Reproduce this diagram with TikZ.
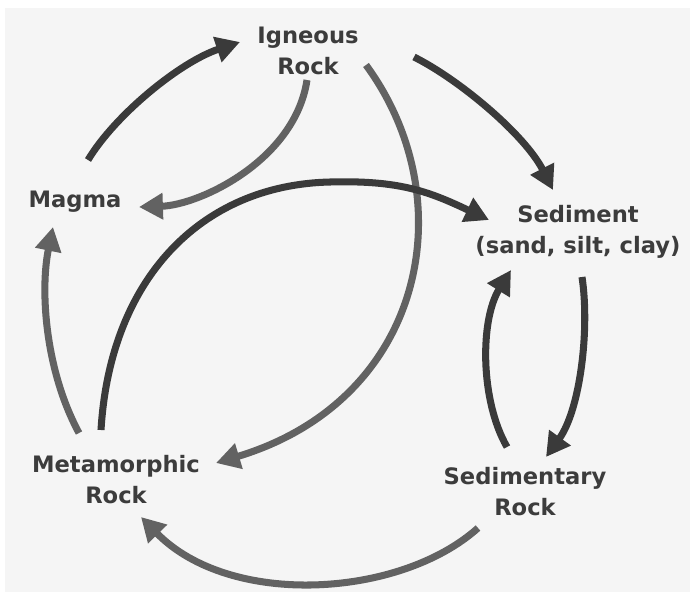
\documentclass[tikz,border=0pt]{standalone}
\usepackage{fontspec}
\setmainfont{DejaVu Sans}
\usepackage{xcolor}
\usetikzlibrary{arrows.meta, calc}
\definecolor{paper}{RGB}{245,245,245}
\definecolor{inkdark}{RGB}{58,58,58}
\definecolor{inkgray}{RGB}{98,98,98}
\definecolor{labelgray}{RGB}{60,60,60}

\begin{document}
\begin{tikzpicture}[x=0.025cm, y=-0.025cm,
  rocklabel/.style={text=labelgray, align=center, inner sep=0pt,
    font=\bfseries\fontsize{16.1}{22}\selectfont},
  cyclearrow/.style={line width=5pt, -{Triangle[length=17pt, width=18pt]}},
  darkarrow/.style={cyclearrow, inkdark},
  grayarrow/.style={cyclearrow, inkgray}]

\useasboundingbox (0,0) rectangle (690,592);
\fill[white] (0,0) rectangle (690,592);
\fill[paper] (5,8) rectangle (690,592);

% rock stages
\node[rocklabel] (igneous) at (308,51) {Igneous\\Rock};
\node[rocklabel] (magma) at (75,202) {Magma};
\node[rocklabel] (sediment) at (578,232) {Sediment\\(sand, silt, clay)};
\node[rocklabel] (metamorphic) at (116,480) {Metamorphic\\Rock};
\node[rocklabel] (sedrock) at (525,492) {Sedimentary\\Rock};

% outer cycle
\draw[darkarrow] ($(magma)+(13,-42)$) .. controls (115,115) and (180,62) .. ($(igneous)+(-68,-9)$);
\draw[darkarrow] ($(igneous)+(106,6)$) .. controls (460,80) and (525,135) .. ($(sediment)+(-25,-42)$);
\draw[grayarrow] ($(sedrock)+(-47,36)$) .. controls (400,598) and (230,608) .. ($(metamorphic)+(25,37)$);
\draw[grayarrow] ($(metamorphic)+(-37,-47)$) .. controls (45,370) and (40,290) .. ($(magma)+(-22,25)$);

% inner paths
\draw[grayarrow] ($(igneous)+(-1,29)$) .. controls (295,160) and (200,205) .. ($(magma)+(64,5)$);
\draw[grayarrow] ($(igneous)+(58,14)$) .. controls (465,200) and (425,400) .. ($(metamorphic)+(100,-17)$);
\draw[darkarrow] ($(metamorphic)+(-15,-50)$) .. controls (110,280) and (200,185) .. (330,182)
  .. controls (400,180) and (430,192) .. ($(sediment)+(-89,-12)$);
\draw[darkarrow] ($(sedrock)+(-18,-45)$) .. controls (480,400) and (480,320) .. ($(sediment)+(-67,38)$);
\draw[darkarrow] ($(sediment)+(4,45)$) .. controls (590,330) and (580,410) .. ($(sedrock)+(21,-35)$);

\end{tikzpicture}
\end{document}
